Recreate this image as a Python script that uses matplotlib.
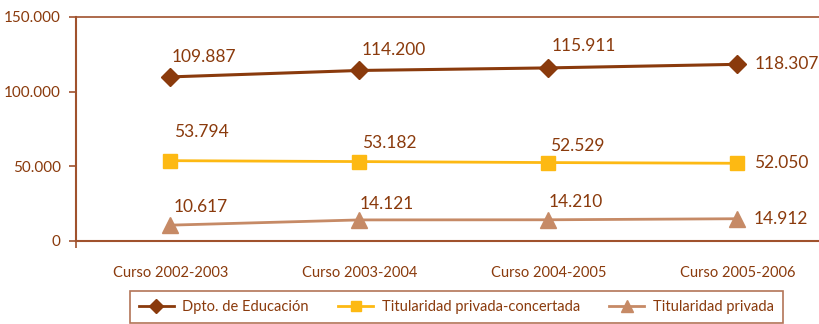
import matplotlib
matplotlib.use("Agg")
import matplotlib.pyplot as plt
from matplotlib.lines import Line2D

categories = ["Curso 2002-2003", "Curso 2003-2004", "Curso 2004-2005", "Curso 2005-2006"]
dpto = [109887, 114200, 115911, 118307]
concertada = [53794, 53182, 52529, 52050]
privada = [10617, 14121, 14210, 14912]
series_names = ["Dpto. de Educación", "Titularidad privada-concertada", "Titularidad privada"]
yticks = [0, 50000, 100000, 150000]
ytick_labels = ["0", "50.000", "100.000", "150.000"]

brown = "#8a3a0c"
axis_col = "#a0522d"
yellow = "#fdb913"
tan = "#c68a66"

plt.rcParams["font.family"] = ["Lato", "DejaVu Sans"]

fig = plt.figure(figsize=(8.2, 3.24), dpi=100)
ax = fig.add_axes([76 / 820, 1 - 241 / 324, 756 / 820, 224 / 324])

x = list(range(len(categories)))
ax.plot(x, dpto, color=brown, lw=2.2, marker="D", ms=9.5, mfc=brown, mec=brown, zorder=3)
ax.plot(x, concertada, color=yellow, lw=2.0, marker="s", ms=10, mfc=yellow, mec=yellow, zorder=3)
ax.plot(x, privada, color=tan, lw=2.0, marker="^", ms=11, mfc=tan, mec=tan, zorder=3)

def fmt(v):
    return f"{v:,}".replace(",", ".")

# label offsets in pixels (dx, dy, ha)
offs_d = [(33, 20, "center"), (34, 20, "center"), (35, 22, "center"), (17, 0, "left")]
offs_c = [(31, 29, "center"), (30, 19, "center"), (29, 17, "center"), (17, 0, "left")]
offs_p = [(30, 18, "center"), (27, 16, "center"), (27, 18, "center"), (16, 0, "left")]
for vals, offs in ((dpto, offs_d), (concertada, offs_c), (privada, offs_p)):
    for xi, v, (dx, dy, ha) in zip(x, vals, offs):
        ax.annotate(fmt(v), (xi, v), xytext=(dx, dy), textcoords="offset pixels",
                    ha=ha, va="center", fontsize=12.5, color=brown)

ax.set_xlim(-0.5, 3.5)
ax.set_ylim(0, 150000)
ax.set_yticks(yticks)
ax.set_yticklabels(ytick_labels)
ax.set_xticks(x)
ax.set_xticklabels(categories)
ax.tick_params(axis="y", direction="out", length=5, width=1.2, color=axis_col,
               labelcolor=brown, labelsize=11, pad=6)
ax.tick_params(axis="x", length=0, labelcolor=brown, labelsize=10.5, pad=18)
ax.set_xticks([-0.5], minor=True)
ax.tick_params(axis="x", which="minor", direction="out", length=5, width=1.2, color=axis_col)

for side in ("left", "bottom", "top"):
    ax.spines[side].set_color(axis_col)
    ax.spines[side].set_linewidth(1.5)
ax.spines["right"].set_visible(False)
ax.spines["top"].set_linewidth(1.2)
ax.set_facecolor("white")

handles = [
    Line2D([], [], color=brown, lw=2.0, marker="D", ms=7),
    Line2D([], [], color=yellow, lw=2.0, marker="s", ms=7),
    Line2D([], [], color=tan, lw=2.0, marker="^", ms=8),
]
leg = fig.legend(handles, series_names, loc="upper left",
                 bbox_to_anchor=(130 / 820, 1 - 291 / 324), ncol=3,
                 frameon=True, fancybox=False, fontsize=10.5, handlelength=2.4,
                 columnspacing=2.0, borderpad=0.6, handletextpad=0.6,
                 borderaxespad=0, labelcolor=brown)
leg.get_frame().set_edgecolor(axis_col)
leg.get_frame().set_linewidth(1.2)

fig.savefig("out.png", dpi=100, facecolor="white")
